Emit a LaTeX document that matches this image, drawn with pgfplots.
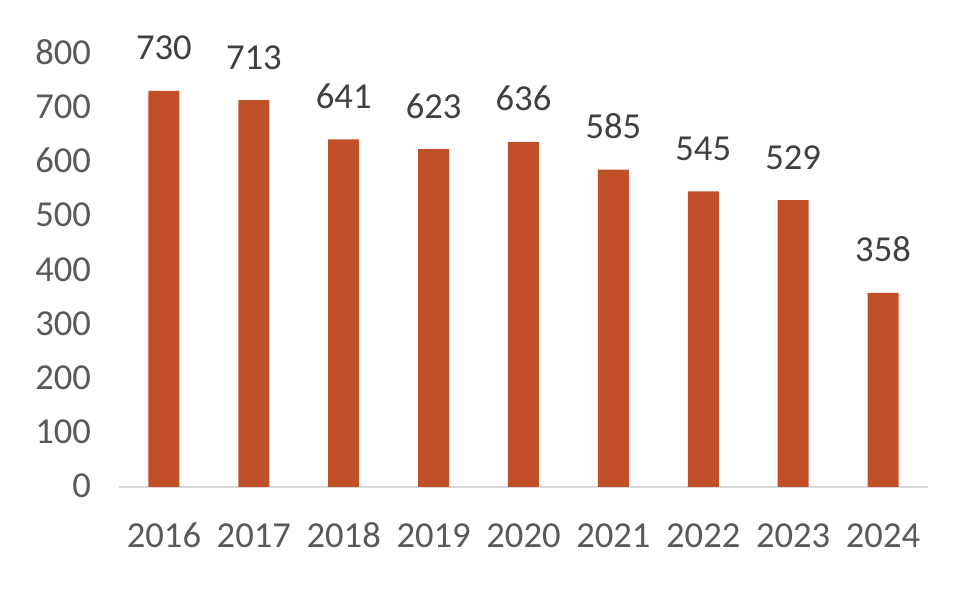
\documentclass[border=0pt]{standalone}
\usepackage{fontspec}
\setmainfont{Carlito}
\usepackage{pgfplots}
\pgfplotsset{compat=1.18}

\definecolor{barcol}{RGB}{193,80,40}
\definecolor{ticktxt}{RGB}{89,89,89}
\definecolor{lbltxt}{RGB}{64,64,64}
\definecolor{axline}{RGB}{217,217,217}

\pgfplotstableread{
idx val
0 730
1 713
2 641
3 623
4 636
5 585
6 545
7 529
8 358
}\yearly

\begin{document}
\begin{tikzpicture}
\begin{axis}[
    at={(0,0)}, anchor=south west,
    scale only axis,
    width=404.5pt, height=217pt,
    xmin=-0.5, xmax=8.5,
    ymin=0, ymax=800,
    axis x line*=bottom,
    axis y line=none,
    x axis line style={draw=axline, line width=0.8pt},
    xtick=data,
    xticklabels={2016,2017,2018,2019,2020,2021,2022,2023,2024},
    ytick={0,100,...,800},
    major tick length=0pt,
    clip=false,
    ybar, bar width=15.5pt,
    /pgf/number format/assume math mode=true,
    xticklabel style={font=\fontsize{18.3}{20}\selectfont, text=ticktxt,
        anchor=base, yshift=-30.5pt},
    nodes near coords,
    nodes near coords style={font=\fontsize{18.3}{20}\selectfont, text=lbltxt,
        anchor=base, yshift=15.5pt},
]
\addplot[fill=barcol, draw=none] table[x=idx, y=val] {\yearly};
\end{axis}
% y tick labels drawn separately since the y axis line is hidden
\begin{axis}[
    at={(0,0)}, anchor=south west,
    scale only axis,
    width=404.5pt, height=217pt,
    xmin=-0.5, xmax=8.5,
    ymin=0, ymax=800,
    axis x line=none,
    axis y line*=left,
    y axis line style={draw=none},
    xtick=\empty,
    ytick={0,100,...,800},
    major tick length=0pt,
    /pgf/number format/assume math mode=true,
    yticklabel style={font=\fontsize{18.3}{20}\selectfont, text=ticktxt,
        anchor=base east, xshift=-10.5pt, yshift=-5.5pt},
]
\addplot[draw=none] coordinates {(0,0)};
\end{axis}
\pgfresetboundingbox
\path (-59.5pt,-53pt) rectangle (430.5pt,243.5pt);
\end{tikzpicture}
\end{document}
